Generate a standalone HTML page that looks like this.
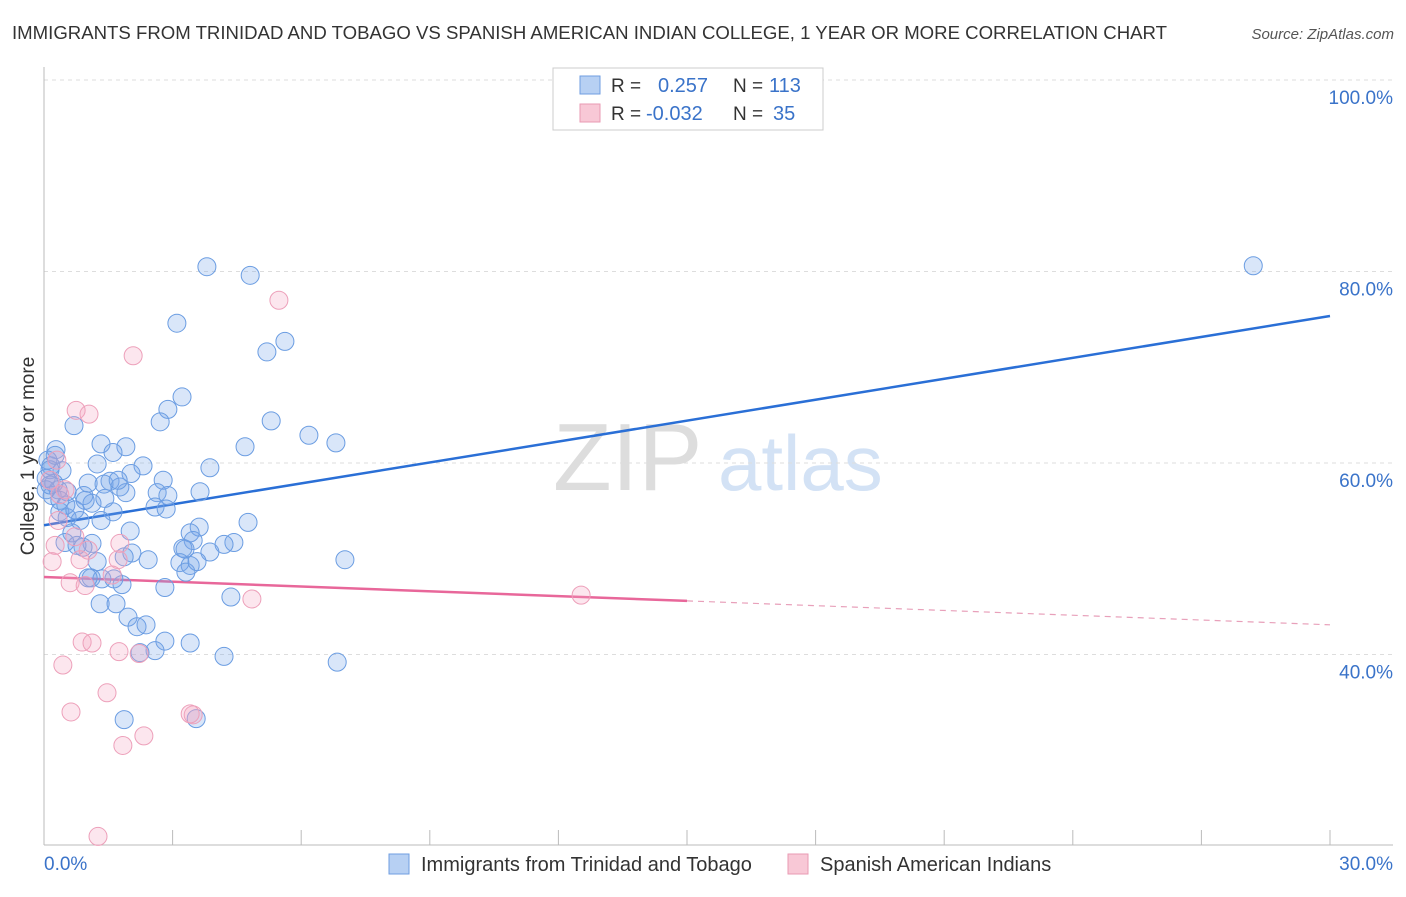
<!DOCTYPE html>
<html><head><meta charset="utf-8"><style>
body{margin:0;background:#fff;font-family:"Liberation Sans",sans-serif}
svg text{font-family:"Liberation Sans",sans-serif}
</style></head><body>
<svg id="chart" width="1406" height="892" xmlns="http://www.w3.org/2000/svg">
<text x="12" y="39" font-size="18" fill="#333" textLength="1155" lengthAdjust="spacingAndGlyphs">IMMIGRANTS FROM TRINIDAD AND TOBAGO VS SPANISH AMERICAN INDIAN COLLEGE, 1 YEAR OR MORE CORRELATION CHART</text>
<text x="1394" y="39" font-size="15" fill="#555" font-style="italic" text-anchor="end">Source: ZipAtlas.com</text>
<g>
<text x="553" y="490" font-size="96" fill="#ddd" font-family="Liberation Serif,serif">ZIP</text>
<text x="718" y="490" font-size="78" fill="#d3e2f5">atlas</text>
</g>
<g id="grid"></g>
<g id="axes"></g>
<g id="trend"></g>
<g id="points"></g>
<text transform="translate(34,456) rotate(-90)" font-size="19" fill="#333" text-anchor="middle">College, 1 year or more</text>
<g>
<rect x="553" y="68" width="270" height="62" fill="#fff" stroke="#ccc"/>
<rect x="580" y="76" width="20" height="18" fill="#b7d0f3" stroke="#6f9ee0"/>
<rect x="580" y="104" width="20" height="18" fill="#f8c8d6" stroke="#e99ab3"/>
<text x="611" y="92" font-size="19" fill="#333">R =</text>
<text x="658" y="92" font-size="20" fill="#3a73c9">0.257</text>
<text x="733" y="92" font-size="19" fill="#333">N =</text>
<text x="769" y="92" font-size="20" fill="#3a73c9">113</text>
<text x="611" y="120" font-size="19" fill="#333">R =</text>
<text x="646" y="120" font-size="20" fill="#3a73c9">-0.032</text>
<text x="733" y="120" font-size="19" fill="#333">N =</text>
<text x="773" y="120" font-size="20" fill="#3a73c9">35</text>
</g>
<g>
<rect x="389" y="854" width="20" height="20" fill="#b7d0f3" stroke="#6f9ee0"/>
<text x="421" y="871" font-size="20" fill="#333">Immigrants from Trinidad and Tobago</text>
<rect x="788" y="854" width="20" height="20" fill="#f8c8d6" stroke="#e99ab3"/>
<text x="820" y="871" font-size="20" fill="#333">Spanish American Indians</text>
</g>
</svg>
<script>
const blueX=[3.80,4.81,28.21,3.10,5.62,5.20,3.22,2.89,5.30,2.71,6.18,6.81,4.69,0.70,1.33,1.91,1.61,0.28,3.87,2.31,1.24,2.03,2.78,1.54,1.77,1.03,1.40,0.42,0.16,0.09,0.23,0.54,0.93,1.12,1.91,3.64,2.64,2.89,2.59,2.85,1.61,0.37,0.54,0.84,1.33,4.76,3.62,2.01,0.65,3.41,3.48,0.49,1.12,0.91,4.43,4.20,3.24,2.05,2.43,3.87,3.29,1.87,3.17,3.41,7.02,3.31,3.57,1.24,1.10,1.35,1.63,1.82,2.82,4.36,1.31,1.68,1.96,2.17,2.38,3.41,2.82,2.59,4.20,2.24,6.84,1.87,3.55,0.19,0.05,0.33,0.14,0.26,0.05,0.14,0.37,0.51,0.72,0.96,1.42,1.73,0.77,1.03];
const blueY=[80.5,79.6,80.6,74.6,72.7,71.6,66.9,65.6,64.4,64.3,62.9,62.1,61.7,63.9,62.0,61.7,61.1,61.4,59.5,59.7,59.9,58.9,58.2,58.1,57.5,57.9,57.8,59.2,59.7,60.3,57.9,57.0,56.6,55.8,56.9,57.0,56.9,56.6,55.4,55.2,54.9,54.9,54.3,54.0,54.0,53.8,53.3,52.9,52.7,52.7,51.9,51.7,51.6,51.2,51.7,51.5,51.1,50.6,49.9,50.7,51.0,50.2,49.6,49.3,49.9,48.6,49.7,49.7,48.0,47.9,47.9,47.3,47.0,46.0,45.3,45.3,43.9,42.9,43.1,41.2,41.4,40.4,39.8,40.2,39.2,33.2,33.3,56.6,58.4,57.2,59.3,60.8,57.2,57.7,56.1,55.6,55.1,56.1,56.3,58.2,51.4,48.0];
const pinkX=[5.48,2.08,0.75,1.05,0.30,0.14,0.37,0.49,0.33,0.26,1.03,0.84,0.19,1.77,1.73,1.59,0.61,0.96,4.85,12.53,0.89,1.12,1.75,2.22,0.44,1.47,0.63,3.48,3.41,2.33,1.84,1.26,0.72];
const pinkY=[77.0,71.2,65.5,65.1,60.3,58.2,56.7,57.2,54.0,51.4,50.9,49.9,49.7,51.6,49.9,48.3,47.5,47.2,45.8,46.2,41.3,41.2,40.3,40.1,38.9,36.0,34.0,33.7,33.8,31.5,30.5,21.0,52.3];
const yTicks=[100,80,60,40];
const blueTrend=[53.5,75.35];
const pinkTrend=[48.1,43.1];
const pinkSolidEnd=15;
const NS="http://www.w3.org/2000/svg";
const sx=v=>44+v/30*1286;
const sy=v=>80+(100-v)/20*191.5;
function mk(tag,attrs,parent){const e=document.createElementNS(NS,tag);for(const k in attrs)e.setAttribute(k,attrs[k]);parent.appendChild(e);return e;}
const grid=document.getElementById('grid'),axes=document.getElementById('axes');
yTicks.forEach(t=>{
 const l=mk('line',{x1:44,x2:1393,y1:sy(t),y2:sy(t),stroke:'#ddd','stroke-dasharray':'4,4'},grid);
 
 
 const tx=mk('text',{x:1393,y:sy(t)+24,'font-size':19,fill:'#3a73c9','text-anchor':'end'},axes);
 tx.textContent=t.toFixed(1)+'%';
 
 
});
const xa=mk('line',{x1:44,x2:1393,y1:845,y2:845,stroke:'#bbb'},axes);


const ya=mk('line',{x1:44,x2:44,y1:67,y2:845,stroke:'#bbb'},axes);


for(let k=0;k<=10;k++){
 const t=mk('line',{x1:sx(k*3),x2:sx(k*3),y1:830,y2:845,stroke:'#bbb'},axes);
 
 
}
const x0=mk('text',{x:44,y:870,'font-size':19,fill:'#3a73c9'},axes);x0.textContent='0.0%';


const x1=mk('text',{x:1393,y:870,'font-size':19,fill:'#3a73c9','text-anchor':'end'},axes);x1.textContent='30.0%';


const pts=document.getElementById('points');
blueX.forEach((x,i)=>{
 const c=mk('circle',{cx:sx(x),cy:sy(blueY[i]),r:9,fill:'rgba(120,165,235,0.28)',stroke:'#6b9de2','stroke-width':1},pts);
 
 
});
pinkX.forEach((x,i)=>{
 const c=mk('circle',{cx:sx(x),cy:sy(pinkY[i]),r:9,fill:'rgba(245,165,195,0.28)',stroke:'#eda0ba','stroke-width':1},pts);
 
 
});
const tr=document.getElementById('trend');
const bl=mk('line',{x1:sx(0),y1:sy(blueTrend[0]),x2:sx(30),y2:sy(blueTrend[1]),stroke:'#2a6fd6','stroke-width':2.5},tr);


const pAt=x=>pinkTrend[0]+(pinkTrend[1]-pinkTrend[0])*x/30;
const pl=mk('line',{x1:sx(0),y1:sy(pinkTrend[0]),x2:sx(pinkSolidEnd),y2:sy(pAt(pinkSolidEnd)),stroke:'#e8679a','stroke-width':2.5},tr);


const pd=mk('line',{x1:sx(pinkSolidEnd),y1:sy(pAt(pinkSolidEnd)),x2:sx(30),y2:sy(pinkTrend[1]),stroke:'#e8a0ba','stroke-width':1.2,'stroke-dasharray':'6,5'},tr);


</script>
</body></html>
